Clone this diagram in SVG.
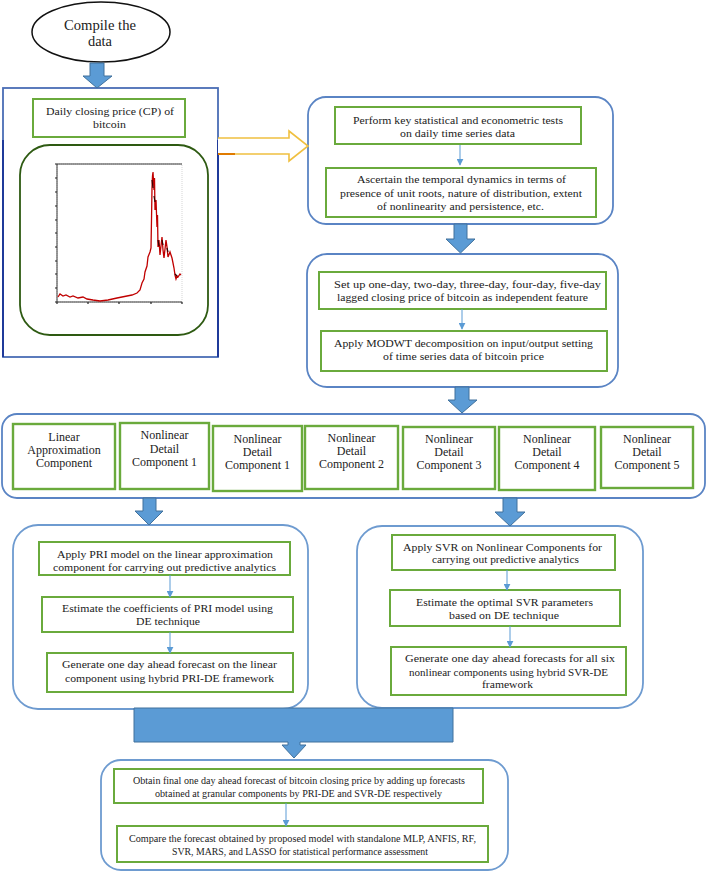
<svg xmlns="http://www.w3.org/2000/svg" width="709" height="872" viewBox="0 0 709 872" font-family="'Liberation Serif', 'DejaVu Serif', serif">
<defs>
<style>
.outer{fill:#fff;stroke:#5a84c4;stroke-width:1.8}
.gbox{fill:#fff;stroke:#6aaa3c;stroke-width:2}
.cbox{fill:#fff;stroke:#6aaa3c;stroke-width:2.4}
text{font-family:'Liberation Serif','DejaVu Serif',serif}
.t{font-size:11px;fill:#222;text-anchor:middle}
.ts{font-size:10px;fill:#222;text-anchor:middle}
.tc{font-size:12px;fill:#222;text-anchor:middle}
.big{fill:#5b9bd5;stroke:#41719c;stroke-width:1}
.thin{stroke:#5b9bd5;stroke-width:1;fill:none;marker-end:url(#ah)}
</style>
<marker id="ah" viewBox="0 0 10 10" refX="9" refY="5" markerWidth="7" markerHeight="7" orient="auto" markerUnits="userSpaceOnUse">
<path d="M0,0 L10,5 L0,10 z" fill="#5b9bd5"/>
</marker>
</defs>
<rect width="709" height="872" fill="#fff"/>

<g id="compile">
<ellipse cx="101" cy="32" rx="69" ry="30" fill="#fff" stroke="#111" stroke-width="1.5"/>
<text class="t" font-family="Liberation Serif, serif" style="font-size:15px" x="100" y="30" textLength="72" lengthAdjust="spacingAndGlyphs">Compile the</text>
<text class="t" font-family="Liberation Serif, serif" style="font-size:15px" x="100" y="46" textLength="24" lengthAdjust="spacingAndGlyphs">data</text>
</g>

<g id="data-box">
<rect x="3" y="88" width="215" height="269" fill="#fff" stroke="#4a6db5" stroke-width="1.8"/>
<line x1="3" y1="140" x2="3" y2="357" stroke="#1f3a9a" stroke-width="2"/>
<line x1="218" y1="140" x2="218" y2="357" stroke="#1f3a9a" stroke-width="2"/>
<rect class="gbox" x="33" y="99" width="152" height="38"/>
<text class="t" x="110" y="115" textLength="128" lengthAdjust="spacingAndGlyphs">Daily closing price (CP) of</text>
<text class="t" x="109.5" y="128" textLength="33" lengthAdjust="spacingAndGlyphs">bitcoin</text>
<rect x="20" y="145" width="188" height="190" rx="30" fill="#fff" stroke="#2e5a12" stroke-width="1.8"/>
<g id="chart">
<rect x="57" y="164" width="125" height="138" fill="#fff" stroke="#bbb" stroke-width="0.6" stroke-dasharray="1,1"/>
<line x1="57" y1="164" x2="182" y2="164" stroke="#222" stroke-width="0.9"/>
<line x1="57" y1="164" x2="57" y2="302" stroke="#222" stroke-width="0.9"/>
<line x1="57" y1="302" x2="182" y2="302" stroke="#222" stroke-width="0.9"/>
<path d="M57,302h-2M57,288h-2M57,274h-2M57,261h-2M57,247h-2M57,233h-2M57,220h-2M57,206h-2M57,192h-2M57,178h-2M57,164h-2M57,302v2M88,302v2M119,302v2M151,302v2M182,302v2" stroke="#222" stroke-width="1.2"/>
<polyline fill="none" stroke="#c00000" stroke-width="1.3" points="58,297 60,294 63,296 66,295 70,297 73,296 78,298 83,297 87,299 93,300 100,301 108,300 117,298 122,297 127,296 132,295 137,293 140,290 142,283 144,279 145,272 147,266 148,257 150,252 151,248 151.5,220 152,188 152.5,176 153,172 154,190 154.5,178 155,210 156,200 157,227 157.5,215 158,247 159,240 160,255 161,246 162,237 163,250 164,258 165,249 166,240 167,247 168,257 170,252 172,258 173,263 174,268 175,275 176,279 177,276 178,277 180,274 181,275"/>
<path d="M152,180l1,8M154,196l1,6M158,240l1,6M162,240l1,5M167,248l1,4M175,274l2,2" stroke="#300" stroke-width="1.2"/>
</g>
</g>

<g id="tests-box">
<rect class="outer" x="308" y="97" width="305" height="127" rx="18"/>
<rect class="gbox" x="335" y="107" width="246" height="37"/>
<text class="t" x="458" y="124" textLength="210" lengthAdjust="spacingAndGlyphs">Perform key statistical and econometric tests</text>
<text class="t" x="457.5" y="137" textLength="115" lengthAdjust="spacingAndGlyphs">on daily time series data</text>
<rect class="gbox" x="326" y="168" width="270" height="49"/>
<text class="t" x="461.5" y="183" textLength="209" lengthAdjust="spacingAndGlyphs">Ascertain the temporal dynamics in terms of</text>
<text class="t" x="461" y="197" textLength="242" lengthAdjust="spacingAndGlyphs">presence of unit roots, nature of distribution, extent</text>
<text class="t" x="460.5" y="210" textLength="167" lengthAdjust="spacingAndGlyphs">of nonlinearity and persistence, etc.</text>
</g>

<g id="setup-box">
<rect class="outer" x="307" y="254" width="311" height="133" rx="20"/>
<rect class="gbox" x="319" y="272" width="287" height="37"/>
<text class="t" x="467.5" y="288" textLength="267" lengthAdjust="spacingAndGlyphs">Set up one-day, two-day, three-day, four-day, five-day</text>
<text class="t" x="462.5" y="301" textLength="251" lengthAdjust="spacingAndGlyphs">lagged closing price of bitcoin as independent feature</text>
<rect class="gbox" x="321" y="331" width="286" height="40"/>
<text class="t" x="463.5" y="347" textLength="259" lengthAdjust="spacingAndGlyphs">Apply MODWT decomposition on input/output setting</text>
<text class="t" x="463.5" y="360" textLength="161" lengthAdjust="spacingAndGlyphs">of time series data of bitcoin price</text>
</g>

<g id="components">
<rect class="outer" x="2" y="414" width="703" height="84" rx="15"/>
<g id="comp-linear">
<rect class="cbox" x="13" y="424" width="102" height="65"/>
<text class="tc" x="64" y="441">Linear</text>
<text class="tc" x="64" y="454">Approximation</text>
<text class="tc" x="64" y="467">Component</text>
</g>
<g id="comp-nl1a">
<rect class="cbox" x="120" y="423" width="89" height="66"/>
<text class="tc" x="164.5" y="439">Nonlinear</text>
<text class="tc" x="164.5" y="453">Detail</text>
<text class="tc" x="164.5" y="466">Component 1</text>
</g>
<g id="comp-nl1b">
<rect class="cbox" x="213" y="426" width="89" height="65"/>
<text class="tc" x="257.5" y="443">Nonlinear</text>
<text class="tc" x="257.5" y="456">Detail</text>
<text class="tc" x="257.5" y="469">Component 1</text>
</g>
<g id="comp-nl2">
<rect class="cbox" x="305" y="426" width="93" height="63"/>
<text class="tc" x="351.5" y="442">Nonlinear</text>
<text class="tc" x="351.5" y="455">Detail</text>
<text class="tc" x="351.5" y="468">Component 2</text>
</g>
<g id="comp-nl3">
<rect class="cbox" x="403" y="427" width="92" height="62"/>
<text class="tc" x="449" y="443">Nonlinear</text>
<text class="tc" x="449" y="456">Detail</text>
<text class="tc" x="449" y="469">Component 3</text>
</g>
<g id="comp-nl4">
<rect class="cbox" x="499" y="427" width="96" height="63"/>
<text class="tc" x="547" y="443">Nonlinear</text>
<text class="tc" x="547" y="456">Detail</text>
<text class="tc" x="547" y="469">Component 4</text>
</g>
<g id="comp-nl5">
<rect class="cbox" x="601" y="427" width="92" height="61"/>
<text class="tc" x="647" y="443">Nonlinear</text>
<text class="tc" x="647" y="456">Detail</text>
<text class="tc" x="647" y="469">Component 5</text>
</g>
</g>

<g id="pri-box">
<rect class="outer" x="13" y="525" width="295" height="184" rx="25" style="stroke:#6e9bd0"/>
<rect class="gbox" x="39" y="542" width="251" height="33"/>
<text class="t" x="165" y="558" textLength="216" lengthAdjust="spacingAndGlyphs">Apply PRI model on the linear approximation</text>
<text class="t" x="164.5" y="571" textLength="223" lengthAdjust="spacingAndGlyphs">component for carrying out predictive analytics</text>
<rect class="gbox" x="42" y="597" width="251" height="35"/>
<text class="t" x="167.5" y="612" textLength="211" lengthAdjust="spacingAndGlyphs">Estimate the coefficients of PRI model using</text>
<text class="t" x="168" y="625" textLength="64" lengthAdjust="spacingAndGlyphs">DE technique</text>
<rect class="gbox" x="47" y="653" width="246" height="39"/>
<text class="t" x="169.5" y="668" textLength="215" lengthAdjust="spacingAndGlyphs">Generate one day ahead forecast on the linear</text>
<text class="t" x="169.5" y="682" textLength="209" lengthAdjust="spacingAndGlyphs">component using hybrid PRI-DE framework</text>
</g>

<g id="svr-box">
<rect class="outer" x="357" y="526" width="286" height="182" rx="25" style="stroke:#6e9bd0"/>
<rect class="gbox" x="392" y="535" width="223" height="35"/>
<text class="t" x="502.5" y="551" textLength="199" lengthAdjust="spacingAndGlyphs">Apply SVR on Nonlinear Components for</text>
<text class="t" x="505.5" y="563" textLength="147" lengthAdjust="spacingAndGlyphs">carrying out predictive analytics</text>
<rect class="gbox" x="390" y="590" width="230" height="36"/>
<text class="t" x="504.5" y="606" textLength="177" lengthAdjust="spacingAndGlyphs">Estimate the optimal SVR parameters</text>
<text class="t" x="504" y="619" textLength="110" lengthAdjust="spacingAndGlyphs">based on DE technique</text>
<rect class="gbox" x="391" y="647" width="235" height="48"/>
<text class="t" x="510" y="662" textLength="210" lengthAdjust="spacingAndGlyphs">Generate one day ahead forecasts for all six</text>
<text class="t" x="508.5" y="676" textLength="199" lengthAdjust="spacingAndGlyphs">nonlinear components using hybrid SVR-DE</text>
<text class="t" x="507.5" y="688" textLength="51" lengthAdjust="spacingAndGlyphs">framework</text>
</g>

<g id="final-box">
<rect class="outer" x="101" y="760" width="407" height="110" rx="20" style="stroke:#6e9bd0"/>
<rect class="gbox" x="114" y="769" width="369" height="34"/>
<text class="ts" x="299" y="784" textLength="332" lengthAdjust="spacingAndGlyphs">Obtain final one day ahead forecast of bitcoin closing price by adding up forecasts</text>
<text class="ts" x="298.5" y="797" textLength="287" lengthAdjust="spacingAndGlyphs">obtained at granular components by PRI-DE and SVR-DE respectively</text>
<rect class="gbox" x="117" y="826" width="371" height="36"/>
<text class="ts" x="302.5" y="842" textLength="347" lengthAdjust="spacingAndGlyphs">Compare the forecast obtained by proposed model with standalone MLP, ANFIS, RF,</text>
<text class="ts" x="300" y="855" textLength="256" lengthAdjust="spacingAndGlyphs">SVR, MARS, and LASSO for statistical performance assessment</text>
</g>

<g id="connectors">
<path class="big" d="M90,63 H104 V76 H112 L97,88 L83,76 H90 Z"/>
<path d="M218,138 H289 V131 L308,146 L289,161 V154 H218" fill="#fff" stroke="#f0c040" stroke-width="1.6"/>
<line x1="218" y1="154" x2="235" y2="154" stroke="#e07b00" stroke-width="2"/>
<path class="big" d="M454,224 H467 V239 H475 L460.5,253 L446,239 H454 Z"/>
<path class="big" d="M455,387 H469 V400 H477 L462,413 L448,400 H455 Z"/>
<path class="big" d="M143,498 H156 V511 H163 L149,525 L135,511 H143 Z"/>
<path class="big" d="M503,498 H517 V512 H525 L510,526 L495,512 H503 Z"/>
<path class="big" d="M134,708 H453 V742 H300 V745 H306 L294,758 L282,745 H288 V742 H134 Z"/>
<line class="thin" x1="460" y1="145" x2="460" y2="165"/>
<line class="thin" x1="462" y1="309" x2="462" y2="329"/>
<line class="thin" x1="170" y1="575" x2="170" y2="597"/>
<line class="thin" x1="170" y1="632" x2="170" y2="653"/>
<line class="thin" x1="507" y1="570" x2="507" y2="590"/>
<line class="thin" x1="510" y1="626" x2="510" y2="647"/>
<line class="thin" x1="286" y1="803" x2="286" y2="826"/>
</g>
</svg>
